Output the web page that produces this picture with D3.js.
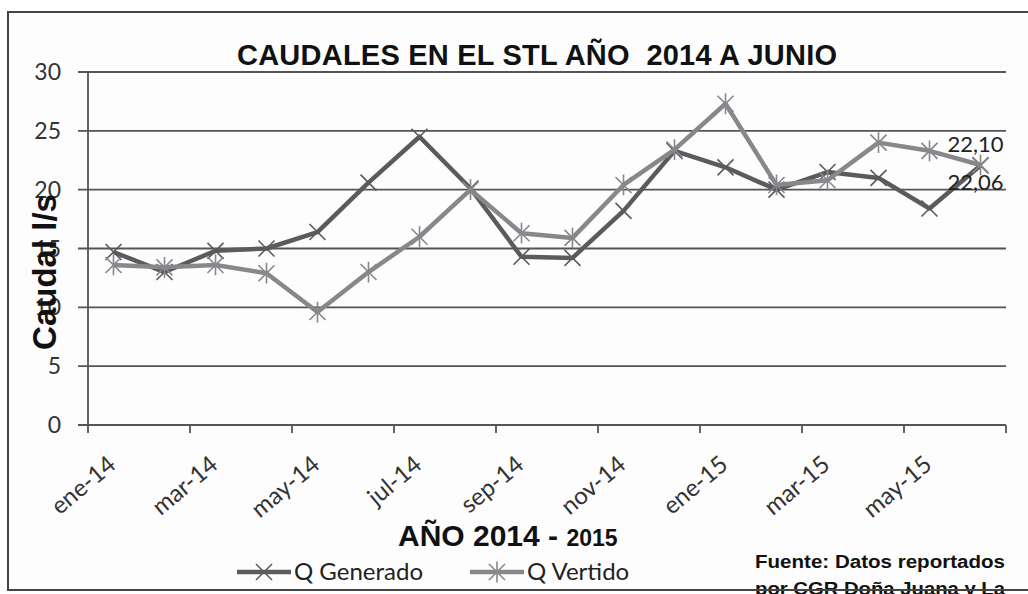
<!DOCTYPE html>
<html>
<head>
<meta charset="utf-8">
<script src="https://cdn.jsdelivr.net/npm/d3@7"></script>
<style>
  body { margin: 0; background: #fff; }
  svg text { white-space: pre; }
</style>
</head>
<body>
<div id="vis"></div>
<script>
// monthly categories (ene-14 .. jun-15)
const months = ["ene-14", "feb-14", "mar-14", "abr-14", "may-14", "jun-14", "jul-14", "ago-14", "sep-14",
    "oct-14", "nov-14", "dic-14", "ene-15", "feb-15", "mar-15", "abr-15", "may-15", "jun-15"]
const qGenerado = [14.7, 13.0, 14.8, 15.0, 16.4, 20.6, 24.5, 20.1, 14.3, 14.2, 18.2, 23.3, 21.9, 20.0, 21.5, 21.0, 18.4, 22.06]
const qVertido = [13.6, 13.4, 13.6, 12.9, 9.6, 13.0, 16.0, 20.0, 16.3, 15.9, 20.4, 23.4, 27.3, 20.4, 20.8, 24.0, 23.3, 22.10]
const yTicks = [0, 5, 10, 15, 20, 25, 30]

const W = 1028, H = 594
const svg = d3.select("#vis").append("svg").attr("width", W).attr("height", H)

//scales
const x = d3.scaleBand().domain(months).range([88, 1006])
const y = d3.scaleLinear().domain([0, 30]).range([425, 72])
const cx = d => x(d) + x.bandwidth() / 2

//chart frame
svg.append("rect")
    .attr("x", 8).attr("y", 12).attr("width", 1040).attr("height", 578)
    .attr("fill", "#fdfdfe").attr("stroke", "#444").attr("stroke-width", 2)

//grid lines + y labels
svg.selectAll(".grid")
    .data(yTicks)
    .enter()
    .append("line")
    .attr("x1", 78).attr("x2", 1006)
    .attr("y1", d => y(d)).attr("y2", d => y(d))
    .attr("stroke", "#555").attr("stroke-width", 1.8)

svg.selectAll(".ylab")
    .data(yTicks)
    .enter()
    .append("text")
    .attr("x", 61).attr("y", d => y(d) + 8)
    .attr("text-anchor", "end")
    .style("font-family", "Lato, sans-serif").style("font-size", "23px").attr("fill", "#333")
    .text(d => d)

//y axis line
svg.append("line")
    .attr("x1", 88).attr("x2", 88).attr("y1", y(30)).attr("y2", y(0))
    .attr("stroke", "#555").attr("stroke-width", 1.8)

//x ticks every two months
const tickPos = months.filter((m, i) => i % 2 === 0).map(m => x(m)).concat([x.range()[1]])
svg.selectAll(".xtick")
    .data(tickPos)
    .enter()
    .append("line")
    .attr("x1", d => d).attr("x2", d => d)
    .attr("y1", y(0)).attr("y2", y(0) + 8)
    .attr("stroke", "#555").attr("stroke-width", 1.8)

svg.selectAll(".xlab")
    .data(months.filter((m, i) => i % 2 === 0))
    .enter()
    .append("text")
    .attr("transform", d => "translate(" + (cx(d) + 4) + "," + 467 + ")rotate(-40)")
    .attr("text-anchor", "end")
    .style("font-family", "Lato, sans-serif").style("font-size", "24px").attr("fill", "#333")
    .text(d => d)

//lines
const series = [
    {name: "Q Generado", values: qGenerado, color: "#5b5b5e", marker: "x"},
    {name: "Q Vertido", values: qVertido, color: "#88888c", marker: "star"}
]

const line = d3.line()
    .x((d, i) => cx(months[i]))
    .y(d => y(d))

function markerPath(type, s) {
    let p = "M" + (-s) + "," + (-s) + "L" + s + "," + s + "M" + (-s) + "," + s + "L" + s + "," + (-s)
    if (type === "star") p += "M0," + (-s * 1.3) + "L0," + (s * 1.3)
    return p
}

for (let s of series) {
    svg.append("path")
        .datum(s.values)
        .attr("d", line)
        .attr("fill", "none")
        .attr("stroke", s.color)
        .attr("stroke-width", 4.5)
        .attr("stroke-linejoin", "round")

    svg.selectAll(".m" + s.marker)
        .data(s.values)
        .enter()
        .append("path")
        .attr("transform", (d, i) => "translate(" + cx(months[i]) + "," + y(d) + ")")
        .attr("d", markerPath(s.marker, 8))
        .attr("stroke", s.color)
        .attr("stroke-width", 1.6)
        .attr("fill", "none")
}

//data labels for the last month
const last = months.length - 1
svg.append("text")
    .attr("x", cx(months[last]) - 33).attr("y", y(qVertido[last]) - 13)
    .style("font-family", "Lato, sans-serif").style("font-size", "22px").attr("fill", "#222")
    .text(qVertido[last].toFixed(2).replace(".", ","))
svg.append("text")
    .attr("x", cx(months[last]) - 33).attr("y", y(qGenerado[last]) + 25)
    .style("font-family", "Lato, sans-serif").style("font-size", "22px").attr("fill", "#222")
    .text(qGenerado[last].toFixed(2).replace(".", ","))

//title
svg.append("text")
    .attr("x", 237).attr("y", 65)
    .attr("textLength", 600).attr("lengthAdjust", "spacing")
    .style("font-family", "'Liberation Sans', Arial, sans-serif").style("font-weight", "bold").style("font-size", "29px")
    .attr("fill", "#111")
    .text("CAUDALES EN EL STL AÑO  2014 A JUNIO")

//y axis title
svg.append("text")
    .attr("transform", "translate(56,272)rotate(-90)")
    .attr("text-anchor", "middle")
    .style("font-family", "'Liberation Sans', Arial, sans-serif").style("font-weight", "bold").style("font-size", "33px")
    .attr("fill", "#111")
    .text("Caudal l/s")

//x axis title
const xt = svg.append("text")
    .attr("x", 398).attr("y", 546)
    .style("font-family", "'Liberation Sans', Arial, sans-serif").style("font-weight", "bold")
    .attr("fill", "#111")
xt.append("tspan").style("font-size", "30px").text("AÑO 2014 - ")
xt.append("tspan").style("font-size", "23px").text("2015")

//legend
const legend = svg.selectAll(".legend")
    .data(series)
    .enter()
    .append("g")
    .attr("transform", (d, i) => "translate(" + (237 + i * 233) + ",572)")

legend.append("line")
    .attr("x1", 0).attr("x2", 54).attr("y1", 0).attr("y2", 0)
    .attr("stroke", d => d.color).attr("stroke-width", 4.5)
legend.append("path")
    .attr("transform", "translate(27,0)")
    .attr("d", d => markerPath(d.marker, 8))
    .attr("stroke", d => d.color).attr("stroke-width", 1.6).attr("fill", "none")
legend.append("text")
    .attr("x", 57).attr("y", 8)
    .style("font-family", "Lato, sans-serif").style("font-size", "24px").attr("fill", "#222")
    .text(d => d.name)

//source note
svg.append("text")
    .attr("x", 755).attr("y", 568)
    .attr("textLength", 250).attr("lengthAdjust", "spacingAndGlyphs")
    .style("font-family", "'Liberation Sans', Arial, sans-serif").style("font-weight", "bold").style("font-size", "18px")
    .attr("fill", "#111")
    .text("Fuente: Datos reportados")
svg.append("text")
    .attr("x", 755).attr("y", 595)
    .attr("textLength", 250).attr("lengthAdjust", "spacingAndGlyphs")
    .style("font-family", "'Liberation Sans', Arial, sans-serif").style("font-weight", "bold").style("font-size", "18px")
    .attr("fill", "#111")
    .text("por CGR Doña Juana y La")

//bottom border over the clipped text
svg.append("line")
    .attr("x1", 8).attr("x2", W).attr("y1", 590).attr("y2", 590)
    .attr("stroke", "#444").attr("stroke-width", 2)
</script>
</body>
</html>
